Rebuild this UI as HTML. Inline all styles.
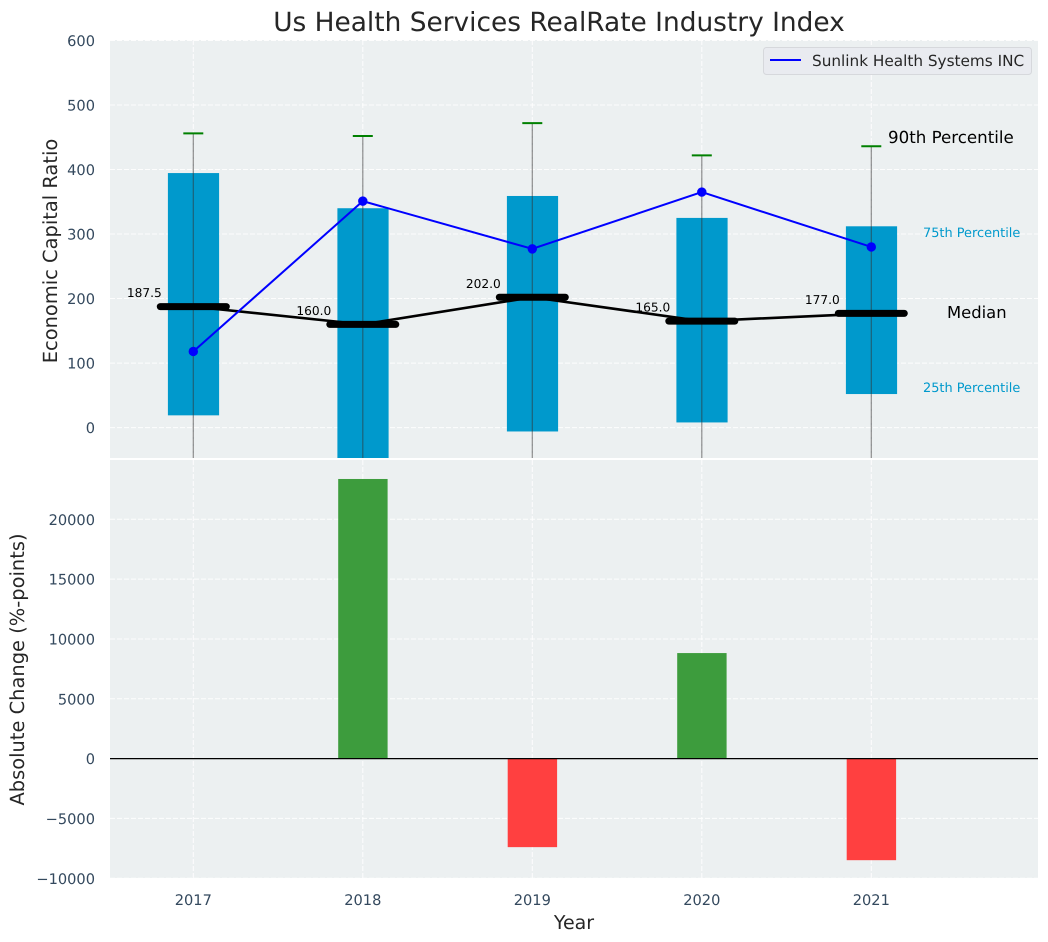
<!DOCTYPE html>
<html lang="en">
<head>
<meta charset="utf-8">
<title>Us Health Services RealRate Industry Index</title>
<style>
html,body{margin:0;padding:0;background:#fff;width:1048px;height:942px;overflow:hidden}
svg{display:block;font-family:"DejaVu Sans","Liberation Sans",sans-serif;text-rendering:geometricPrecision}
</style>
</head>
<body>
<svg id="chart" xmlns="http://www.w3.org/2000/svg" width="1048" height="942" viewBox="0 0 1048 942">
<defs>
<clipPath id="clip-top"><rect x="110" y="40" width="928" height="418"/></clipPath>
<clipPath id="clip-bottom"><rect x="110" y="460" width="928" height="418"/></clipPath>
</defs>
<rect x="110" y="40" width="928" height="418" fill="#ecf0f1"/>
<rect x="110" y="460" width="928" height="418" fill="#ecf0f1"/>
<g id="grid"></g>
<g id="top-marks" clip-path="url(#clip-top)"></g>
<g id="bottom-marks" clip-path="url(#clip-bottom)"></g>
<g id="labels"></g>
<text x="559" y="31" text-anchor="middle" font-size="26.4" fill="#262626">Us Health Services RealRate Industry Index</text>
<text transform="translate(57 251) rotate(-90)" text-anchor="middle" font-size="19.44" fill="#262626">Economic Capital Ratio</text>
<text transform="translate(24 669.5) rotate(-90)" text-anchor="middle" font-size="19.44" fill="#262626">Absolute Change (%-points)</text>
<text x="574" y="929" text-anchor="middle" font-size="19" fill="#262626">Year</text>
<g>
<rect x="763.5" y="47.5" width="268" height="27" rx="3" fill="#e9ebf0" stroke="#d6d8dc" stroke-width="1"/>
<line x1="770" y1="60" x2="801" y2="60" stroke="#0000ff" stroke-width="2"/>
<text x="812" y="66" font-size="15.28" fill="#262626">Sunlink Health Systems INC</text>
</g>
<text x="888" y="143" font-size="16.67" fill="#000">90th Percentile</text>
<text x="923" y="237" font-size="12.9" fill="#0099cc">75th Percentile</text>
<text x="947" y="318" font-size="16.4" fill="#000">Median</text>
<text x="923" y="392" font-size="12.9" fill="#0099cc">25th Percentile</text>
</svg>
<script>
const years = [2017, 2018, 2019, 2020, 2021];
const p90 = [456, 452, 472, 422, 436];
const p75 = [394.5, 340, 359, 325, 312];
const median = [187.5, 160, 202, 165, 177];
const medianLabels = ['187.5', '160.0', '202.0', '165.0', '177.0'];
const p25 = [19, -100, -6, 8, 52];
const p10 = [-120, -150, -130, -110, -100];
const company = [118, 351, 277, 365, 280];
const absoluteChange = [0, 23370, -7400, 8820, -8490];
const topTicks = [0, 100, 200, 300, 400, 500, 600];
const bottomTicks = [-10000, -5000, 0, 5000, 10000, 15000, 20000];

const NS = 'http://www.w3.org/2000/svg';
const xScale = function (year) { return 193.3 + (year - 2017) * 169.5; };
const yTop = function (v) { return 427.6 - v * 0.6452; };
const yBottom = function (v) { return 758.6 - v * 0.011965; };

function make(tag, parent, attrs, text) {
  const el = document.createElementNS(NS, tag);
  for (const k in attrs) { el.setAttribute(k, attrs[k]); }
  if (text !== undefined) { el.textContent = text; }
  parent.appendChild(el);
  return el;
}

const grid = document.getElementById('grid');
const topG = document.getElementById('top-marks');
const bottomG = document.getElementById('bottom-marks');
const labels = document.getElementById('labels');
const gridStyle = { stroke: '#ffffff', 'stroke-width': 1, 'stroke-dasharray': '5 2', opacity: 0.9 };

topTicks.forEach(function (t) {
  const y = yTop(t);
  const line = make('line', grid, Object.assign({ x1: 110, x2: 1038, y1: y, y2: y }, gridStyle));
  
  
  const label = make('text', labels, { x: 95, y: y + 5.5, 'text-anchor': 'end', 'font-size': 14.6, fill: '#34495e' }, String(t));
  
  
});

bottomTicks.forEach(function (t) {
  const y = yBottom(t);
  const line = make('line', grid, Object.assign({ x1: 110, x2: 1038, y1: y, y2: y }, gridStyle));
  
  
  const text = t < 0 ? '\u2212' + Math.abs(t) : String(t);
  const label = make('text', labels, { x: 95, y: y + 5.5, 'text-anchor': 'end', 'font-size': 14.6, fill: '#34495e' }, text);
  
  
});

years.forEach(function (yr) {
  const x = xScale(yr);
  const lineA = make('line', grid, Object.assign({ x1: x, x2: x, y1: 40, y2: 458 }, gridStyle));
  
  
  const lineB = make('line', grid, Object.assign({ x1: x, x2: x, y1: 460, y2: 878 }, gridStyle));
  
  
  const label = make('text', labels, { x: x, y: 905, 'text-anchor': 'middle', 'font-size': 14.6, fill: '#34495e' }, String(yr));
  
  
});

years.forEach(function (yr, i) {
  const x = xScale(yr);
  const bar = make('rect', topG, { x: x - 25.4, y: yTop(p75[i]), width: 51.2, height: yTop(p25[i]) - yTop(p75[i]), fill: '#0099cc' });
  
  
  const whisker = make('line', topG, { x1: x, x2: x, y1: yTop(p90[i]), y2: yTop(p10[i]), stroke: '#333', 'stroke-opacity': 0.55, 'stroke-width': 1.2 });
  
  
  const cap = make('line', topG, { x1: x - 10, x2: x + 10, y1: yTop(p90[i]), y2: yTop(p90[i]), stroke: '#008000', 'stroke-width': 2 });
  
  
});

const medianLine = make('polyline', topG, {
  points: years.map(function (yr, i) { return xScale(yr) + ',' + yTop(median[i]); }).join(' '),
  fill: 'none', stroke: '#000', 'stroke-width': 2.6
});



years.forEach(function (yr, i) {
  const x = xScale(yr);
  const seg = make('line', topG, { x1: x - 33, x2: x + 33, y1: yTop(median[i]), y2: yTop(median[i]), stroke: '#000', 'stroke-width': 7, 'stroke-linecap': 'round' });
  
  
  const label = make('text', labels, { x: x - 31.5, y: yTop(median[i]) - 9.5, 'text-anchor': 'end', 'font-size': 12.2, fill: '#000' }, medianLabels[i]);
  
  
});

const companyLine = make('polyline', topG, {
  points: years.map(function (yr, i) { return xScale(yr) + ',' + yTop(company[i]); }).join(' '),
  fill: 'none', stroke: '#0000ff', 'stroke-width': 2
});



years.forEach(function (yr, i) {
  const dot = make('circle', topG, { cx: xScale(yr), cy: yTop(company[i]), r: 4.7, fill: '#0000ff' });
  
  
});

years.forEach(function (yr, i) {
  const v = absoluteChange[i];
  if (v === 0) { return; }
  const y0 = yBottom(Math.max(v, 0));
  const y1 = yBottom(Math.min(v, 0));
  const bar = make('rect', bottomG, { x: xScale(yr) - 24.6, y: y0, width: 49.4, height: y1 - y0, fill: v > 0 ? '#3d9c3d' : '#ff4040' });
  
  
});

const zero = make('line', bottomG, { x1: 110, x2: 1038, y1: yBottom(0), y2: yBottom(0), stroke: '#000', 'stroke-width': 1.3 });


</script>
</body>
</html>
